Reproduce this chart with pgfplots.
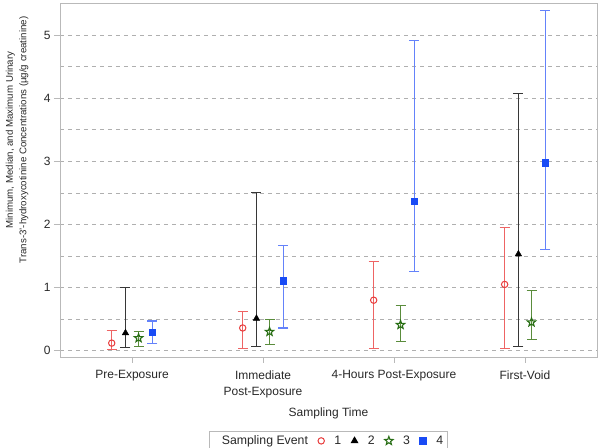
\documentclass[border=0pt]{standalone}
\usepackage{pgfplots}
\usepackage{pgfplotstable}
\pgfplotsset{compat=1.18}
\usepackage{fontspec}
\setmainfont{Liberation Sans}
\usetikzlibrary{plotmarks}

\definecolor{cred}{RGB}{238,100,100}
\definecolor{credm}{RGB}{232,60,60}
\definecolor{cgreen}{RGB}{90,140,60}
\definecolor{cgreenm}{RGB}{40,110,20}
\definecolor{cblue}{RGB}{100,130,250}
\definecolor{cbluem}{RGB}{25,75,245}
\definecolor{cblack}{RGB}{55,55,55}
\definecolor{cgrid}{RGB}{175,175,175}
\definecolor{cframe}{RGB}{185,185,185}
\definecolor{ctext}{RGB}{40,40,40}

\pgfdeclareplotmark{ostar}{%
  \pgfpathmoveto{\pgfpointpolar{90}{\pgfplotmarksize}}%
  \pgfpathlineto{\pgfpointpolar{126}{0.42*\pgfplotmarksize}}%
  \pgfpathlineto{\pgfpointpolar{162}{\pgfplotmarksize}}%
  \pgfpathlineto{\pgfpointpolar{198}{0.42*\pgfplotmarksize}}%
  \pgfpathlineto{\pgfpointpolar{234}{\pgfplotmarksize}}%
  \pgfpathlineto{\pgfpointpolar{270}{0.42*\pgfplotmarksize}}%
  \pgfpathlineto{\pgfpointpolar{306}{\pgfplotmarksize}}%
  \pgfpathlineto{\pgfpointpolar{342}{0.42*\pgfplotmarksize}}%
  \pgfpathlineto{\pgfpointpolar{18}{\pgfplotmarksize}}%
  \pgfpathlineto{\pgfpointpolar{54}{0.42*\pgfplotmarksize}}%
  \pgfpathclose
  \pgfusepathqstroke
}

% x = category position + cluster offset; med, min, max
\pgfplotstableread{
x      med  min  max
-0.155 0.12 0.02 0.32
0.845  0.36 0.04 0.62
1.845  0.80 0.03 1.42
2.845  1.05 0.03 1.95
}\tred
\pgfplotstableread{
x      med  min  max
-0.05  0.28 0.05 1.00
0.95   0.51 0.06 2.50
2.95   1.53 0.07 4.07
}\tblack
\pgfplotstableread{
x      med  min  max
0.05   0.20 0.06 0.31
1.05   0.30 0.10 0.50
2.05   0.41 0.15 0.71
3.05   0.45 0.18 0.96
}\tgreen
\pgfplotstableread{
x      med  min  max
0.155  0.29 0.11 0.47
1.155  1.11 0.36 1.67
2.155  2.37 1.26 4.91
3.155  2.98 1.61 5.39
}\tblue

\begin{document}
\begin{tikzpicture}
\begin{axis}[
  name=ax,
  scale only axis,
  width=537pt, height=354pt,
  xmin=-0.55, xmax=3.55,
  ymin=-0.1, ymax=5.51,
  xtick={0,1,2,3},
  xticklabels={Pre-Exposure,{Immediate\\Post-Exposure},4-Hours Post-Exposure,First-Void},
  xticklabel style={align=center, font=\fontsize{12}{16}\selectfont, text=ctext, yshift=-4pt},
  ytick={0,1,2,3,4,5},
  minor ytick={0.5,1.5,2.5,3.5,4.5},
  yticklabel style={font=\fontsize{12}{14}\selectfont, text=ctext},
  /pgf/number format/assume math mode=true,
  tick align=outside,
  major tick length=6pt,
  minor tick length=0pt,
  xtick pos=bottom, ytick pos=left,
  tick style={cframe, line width=0.8pt},
  axis line style={cframe, line width=0.8pt},
  ymajorgrids, yminorgrids,
  major grid style={cgrid, line width=0.8pt, dash pattern=on 4pt off 4pt},
  minor grid style={cgrid, line width=0.8pt, dash pattern=on 4pt off 4pt},
  xlabel={Sampling Time},
  xlabel style={at={(axis description cs:0.5,-0.158)}, anchor=center, font=\fontsize{12}{14}\selectfont, text=ctext},
  ylabel={Minimum, Median, and Maximum Urinary\\Trans-3'-hydroxycotinine Concentrations (µg/g creatinine)},
  ylabel style={at={(axis description cs:-0.080,0.613)}, anchor=center, align=center, font=\fontsize{9.7}{13.5}\selectfont, text=ctext},
  legend columns=-1,
  legend style={at={(0.5,-0.237)}, anchor=center, draw=cframe, line width=0.8pt,
    font=\fontsize{12.3}{14}\selectfont, text=ctext, inner xsep=2pt, inner ysep=2pt,
    /tikz/every even column/.append style={column sep=8pt},
    /tikz/every odd column/.append style={column sep=8pt}},
  legend cell align=left,
]
\addlegendimage{empty legend}
\addlegendentry{Sampling Event\hspace{16pt}}

\addplot[only marks, mark=o, mark size=3.2pt, mark options={credm, line width=1pt},
  error bars/.cd, y dir=both, y explicit,
  error bar style={cred, line width=1.1pt},
  error mark options={cred, line width=1.1pt, mark size=5pt, rotate=90}]
  table[x=x, y=med, y error plus expr=\thisrow{max}-\thisrow{med}, y error minus expr=\thisrow{med}-\thisrow{min}] {\tred};
\addlegendentry{1}

\addplot[only marks, mark=triangle*, mark size=3.8pt, mark options={black, fill=black},
  error bars/.cd, y dir=both, y explicit,
  error bar style={cblack, line width=1.1pt},
  error mark options={cblack, line width=1.1pt, mark size=5pt, rotate=90}]
  table[x=x, y=med, y error plus expr=\thisrow{max}-\thisrow{med}, y error minus expr=\thisrow{med}-\thisrow{min}] {\tblack};
\addlegendentry{2}

\addplot[only marks, mark=ostar, mark size=4.4pt, mark options={cgreenm, line width=1.1pt},
  error bars/.cd, y dir=both, y explicit,
  error bar style={cgreen, line width=1.1pt},
  error mark options={cgreen, line width=1.1pt, mark size=5pt, rotate=90}]
  table[x=x, y=med, y error plus expr=\thisrow{max}-\thisrow{med}, y error minus expr=\thisrow{med}-\thisrow{min}] {\tgreen};
\addlegendentry{3}

\addplot[only marks, mark=square*, mark size=3.2pt, mark options={cbluem, fill=cbluem},
  error bars/.cd, y dir=both, y explicit,
  error bar style={cblue, line width=1.1pt},
  error mark options={cblue, line width=1.1pt, mark size=5pt, rotate=90}]
  table[x=x, y=med, y error plus expr=\thisrow{max}-\thisrow{med}, y error minus expr=\thisrow{med}-\thisrow{min}] {\tblue};
\addlegendentry{4}
\end{axis}
\pgfresetboundingbox
\path[use as bounding box] ([xshift=-60pt,yshift=-91pt]ax.south west) rectangle ([xshift=3pt,yshift=3pt]ax.north east);
\end{tikzpicture}
\end{document}
